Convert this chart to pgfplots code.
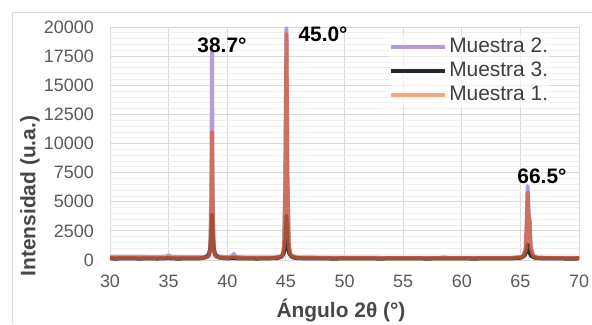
\documentclass[border=0pt]{standalone}
\usepackage{pgfplots}
\pgfplotsset{compat=1.18}
\usepackage{fontspec}
\setmainfont{Liberation Sans}
\definecolor{cPurple}{RGB}{185,155,215}
\definecolor{cBlack}{RGB}{38,42,48}
\definecolor{cOrange}{RGB}{215,95,55}
\definecolor{cOrangeL}{RGB}{244,168,128}
\definecolor{cTick}{RGB}{89,89,89}
\definecolor{cGrid}{RGB}{217,217,217}
\definecolor{cGridm}{RGB}{238,238,238}
\begin{document}
\begin{tikzpicture}[x=1bp,y=1bp]
\path[use as bounding box] (0,0) rectangle (592,324);
\draw[cGrid, line width=1bp] (12.5,0) -- (12.5,311.5) -- (592,311.5);
\begin{axis}[
  at={(110bp,64bp)}, anchor=south west, scale only axis,
  width=469bp, height=233bp,
  xmin=30, xmax=70, ymin=0, ymax=20000,
  xtick={30,35,...,70}, ytick={0,2500,...,20000},
  minor y tick num=4,
  grid=both,
  major grid style={cGrid, line width=0.9bp},
  minor grid style={cGridm, line width=0.7bp},
  axis line style={draw=none}, tick style={draw=none},
  /pgf/number format/assume math mode=true,
  /pgf/number format/1000 sep={},
  ticklabel style={font=\fontsize{18}{20}\selectfont, text=cTick},
  yticklabel style={anchor=east, inner sep=0pt, xshift=-16bp},
  xticklabel style={anchor=north, inner sep=0pt, yshift=-15bp},
  scaled y ticks=false,
  xlabel={Ángulo 2θ (°)},
  xlabel style={font=\bfseries\fontsize{21}{24}\selectfont, text=cTick!80!black, at={(axis description cs:0.4925,0)}, anchor=center, yshift=-50bp, inner sep=0pt},
  ylabel={Intensidad (u.a.)},
  ylabel style={font=\bfseries\fontsize{21}{24}\selectfont, text=cTick!80!black, at={(axis description cs:-0.1706,0.274)}, anchor=center, inner sep=0pt},
  legend style={at={(rel axis cs:0.595,0.966)}, anchor=north west, draw=none, fill=white, fill opacity=0.6, text opacity=1,
    font=\fontsize{21}{24}\selectfont, text=cTick!70!black, inner xsep=0pt, inner ysep=0pt, row sep=0pt,
    nodes={inner ysep=2bp, inner xsep=2bp, text height=15bp, text depth=5bp}},
  legend cell align=left,
  legend image code/.code={\draw[#1] (0bp,0bp) -- (54bp,0bp);},
  clip=false,
]
\addplot[cPurple, line width=4bp, line join=round, forget plot] coordinates {
(30,280)(31,270)(32,265)(33,260)(34,255)(34.8,260)(35.0,420)(35.2,270)(36,250)(37,245)(38,240)
(38.4,300)(38.55,800)(38.65,6000)(38.7,17800)(38.75,6000)(38.85,800)(39.0,330)(39.5,250)
(40,240)(40.4,300)(40.55,520)(40.7,300)(41,240)(42,230)(43,225)(44,220)
(44.7,300)(44.85,1000)(44.95,7000)(45.05,19900)(45.12,8000)(45.25,1200)(45.4,400)(45.8,250)
(46,230)(48,210)(50,200)(52,195)(55,190)(58,185)(58.5,230)(59,185)(60,180)(62,175)(64,175)
(65.2,250)(65.45,900)(65.55,3500)(65.62,6350)(65.7,4000)(65.78,3400)(65.88,1200)(66.1,300)
(66.5,200)(68,180)(70,180)};
\addplot[cBlack, line width=4bp, line join=round, forget plot] coordinates {
(30,140)(30.5,120)(31,150)(31.5,130)(32,140)(32.5,120)(33,135)(33.5,145)(34,125)(34.5,140)
(35,160)(35.5,130)(36,125)(36.5,140)(37,130)(37.5,140)(37.9,170)(38.1,220)(38.3,330)(38.45,550)
(38.55,1000)(38.62,1800)(38.67,3000)(38.7,3900)(38.73,3000)(38.78,1800)(38.85,1000)(38.95,550)
(39.1,330)(39.3,220)(39.6,170)(40,140)(40.5,170)(41,135)(41.5,130)(42,140)(42.5,125)(43,135)
(43.5,140)(44.2,170)(44.45,220)(44.65,330)(44.8,550)(44.9,1000)(44.97,1800)(45.02,3000)
(45.05,3800)(45.08,3000)(45.13,1800)(45.2,1000)(45.3,550)(45.45,330)(45.65,220)(45.9,170)
(46.5,140)(47,130)(48,140)(49,125)(50,135)(51,130)
(52,140)(53,125)(54,135)(55,130)(56,140)(57,125)(58,135)(59,130)(60,140)(61,125)(62,135)
(63,130)(64,140)(64.8,160)(65.1,220)(65.35,380)(65.5,750)(65.62,1350)(65.74,750)(65.9,380)
(66.15,220)(66.5,160)(67,130)(68,140)(69,125)(70,130)};
\addplot[cOrange, opacity=0.72, line width=4bp, line join=round, forget plot] coordinates {
(30,180)(32,175)(34,170)(35,200)(36,170)(38,170)(38.4,300)(38.55,900)(38.63,4000)(38.7,11000)
(38.76,4000)(38.85,900)(39,300)(39.5,190)(40,170)(40.55,260)(41,170)(43,165)(44,170)
(44.7,350)(44.85,1200)(44.95,6000)(45.05,19400)(45.12,7000)(45.25,1200)(45.4,400)(45.8,220)
(46,180)(50,165)(55,160)(60,160)(64,160)
(65.2,250)(65.45,800)(65.55,3000)(65.62,5800)(65.7,3800)(65.78,3300)(65.88,1000)(66.1,300)
(66.5,180)(70,160)};
\addlegendimage{cPurple, line width=4bp}
\addlegendentry{Muestra 2.}
\addlegendimage{cBlack, line width=4bp}
\addlegendentry{Muestra 3.}
\addlegendimage{cOrangeL, line width=4bp}
\addlegendentry{Muestra 1.}
\node[font=\bfseries\fontsize{21}{24}\selectfont, inner sep=0pt] at (axis cs:39.55,18455) {38.7°};
\node[font=\bfseries\fontsize{21}{24}\selectfont, inner sep=0pt] at (axis cs:48.17,19400) {45.0°};
\node[font=\bfseries\fontsize{21}{24}\selectfont, inner sep=0pt] at (axis cs:66.84,7210) {66.5°};
\end{axis}
\end{tikzpicture}
\end{document}
